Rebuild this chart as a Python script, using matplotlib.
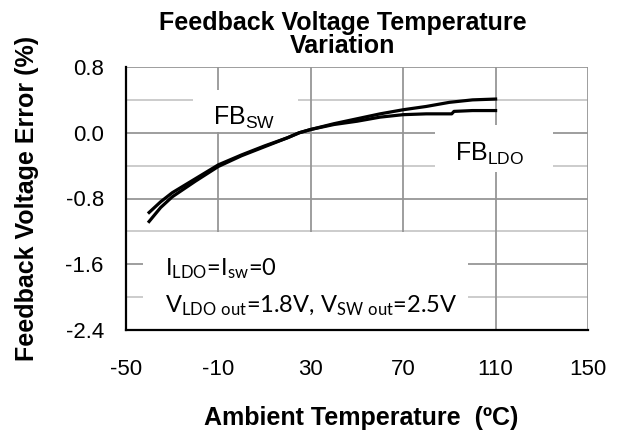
import matplotlib
matplotlib.use('Agg')
import matplotlib.pyplot as plt
from matplotlib.patches import Rectangle
import numpy as np

plt.rcParams['font.family'] = ['Liberation Sans', 'DejaVu Sans']
plt.rcParams['mathtext.default'] = 'regular'
plt.rcParams['axes.unicode_minus'] = False

# Data
temp_sw = [-40, -35, -30, -20, -10, 0, 10, 20, 25, 30, 40, 50, 60, 70, 80, 90, 100, 110]
err_sw = [-0.97, -0.84, -0.73, -0.56, -0.39, -0.27, -0.16, -0.06, 0.0, 0.04, 0.11, 0.17, 0.23, 0.28, 0.32, 0.37, 0.40, 0.41]

temp_ldo = [-40, -35, -30, -20, -10, 0, 10, 20, 25, 30, 40, 50, 60, 70, 80, 91, 92, 100, 110]
err_ldo = [-1.08, -0.91, -0.78, -0.59, -0.41, -0.28, -0.17, -0.06, 0.0, 0.04, 0.10, 0.14, 0.19, 0.22, 0.23, 0.23, 0.26, 0.27, 0.27]

x_ticks = [-50, -10, 30, 70, 110, 150]
y_ticks = [-2.4, -1.6, -0.8, 0.0, 0.8]
y_ticklabels = ['-2.4', '-1.6', '-0.8', '0.0', '0.8']

W, H = 623, 433
fig = plt.figure(figsize=(W / 100, H / 100), dpi=100)
ax = fig.add_axes([126 / W, 1 - 330 / H, 462 / W, 263 / H])

# grid lines (major every 0.8, lighter minor every 0.4)
for y in np.arange(-2.4, 0.81, 0.4):
    major = abs(round(y / 0.8) - y / 0.8) < 1e-6
    ax.axhline(y, color='#969696' if major else '#c8c8c8', lw=1.3, zorder=0)
for x in x_ticks[1:]:
    ax.axvline(x, color='#969696', lw=1.3, zorder=0)

ax.plot(temp_sw, err_sw, color='black', lw=2.3, zorder=3)
ax.plot(temp_ldo, err_ldo, color='black', lw=2.3, zorder=3)

ax.set_xlim(-50, 150)
ax.set_ylim(-2.4, 0.8)
ax.set_xticks(x_ticks)
ax.set_yticks(y_ticks)
ax.set_yticklabels(y_ticklabels)
ax.tick_params(length=0, labelsize=16)
ax.tick_params(axis='x', pad=21)
ax.tick_params(axis='y', pad=16)
for s in ['top', 'right']:
    ax.spines[s].set_visible(False)
for s in ['left', 'bottom']:
    ax.spines[s].set_linewidth(1.6)
    ax.spines[s].set_zorder(4)


def px_box(x0, y0, x1, y1):
    # white label background given in figure pixels
    return Rectangle(((x0 - 126) / 462, (330 - y1) / 263), (x1 - x0) / 462, (y1 - y0) / 263,
                     transform=ax.transAxes, facecolor='white', edgecolor='none', zorder=1)


ax.add_patch(px_box(193, 90, 298, 132))
ax.add_patch(px_box(435, 125, 553, 172))
ax.add_patch(px_box(143, 232, 468, 329))

ax.text(-12.3, 0.094, 'FB$_{SW}$', fontsize=18, ha='left', va='baseline', zorder=2)
ax.text(92.4, -0.344, 'FB$_{LDO}$', fontsize=18, ha='left', va='baseline', zorder=2)
ax.text(-33.1, -1.73, 'I$_{LDO}$=I$_{sw}$=0', fontsize=17, family=['Lato', 'DejaVu Sans'],
        ha='left', va='baseline', zorder=2)
ax.text(-33.1, -2.19, 'V$_{LDO\\ out}$=1.8V, V$_{SW\\ out}$=2.5V', fontsize=17,
        family=['Lato', 'DejaVu Sans'], ha='left', va='baseline', zorder=2)

fig.text(343 / W, 1 - 30 / H, 'Feedback Voltage Temperature', fontsize=18,
         fontweight='bold', ha='center', va='baseline')
fig.text(343 / W, 1 - 53 / H, 'Variation', fontsize=18,
         fontweight='bold', ha='center', va='baseline')
fig.text(361 / W, 1 - 425 / H, 'Ambient Temperature  (ºC)', fontsize=18,
         fontweight='bold', ha='center', va='baseline')
fig.text(27 / W, 1 - 198 / H, 'Feedback Voltage Error (%)', fontsize=18,
         fontweight='bold', ha='center', va='center', rotation=90)

fig.savefig('out.png', dpi=100)
